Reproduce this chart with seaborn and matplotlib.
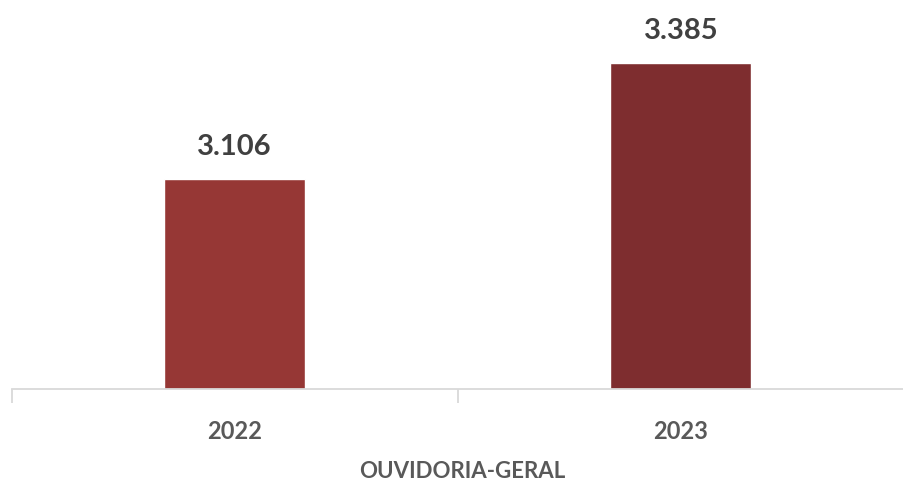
import matplotlib
matplotlib.use("Agg")
import pandas as pd
import matplotlib.pyplot as plt
import seaborn as sns

# data
anos = ["2022", "2023"]
manifestacoes = [3106, 3385]
cores = ["#963735", "#7e2d2f"]
titulo_eixo = "OUVIDORIA-GERAL"

df = pd.DataFrame({"Ano": anos, "Total": manifestacoes})

sns.set_style("white")
plt.rcParams["font.family"] = ["Lato", "DejaVu Sans"]

fig = plt.figure(figsize=(9.04, 4.80), dpi=100)
ax = fig.add_axes([11.5 / 904, 91 / 480, 892.5 / 904, 374 / 480])

sns.barplot(data=df, x="Ano", y="Total", hue="Ano", palette=cores,
            width=0.316, saturation=1, legend=False, ax=ax)

ax.set_ylim(2600, 3500)
xmax = (904 - 11.5) / 451 - 0.5
ax.set_xlim(-0.5, xmax)

# value labels above the bars
for i, v in enumerate(manifestacoes):
    ax.text(i, v + 45, f"{v:,}".replace(",", "."), ha="center", va="bottom",
            fontsize=21, fontweight="bold", color="#404040")

# category axis: light line with separators between the groups
for s in ["top", "right", "left"]:
    ax.spines[s].set_visible(False)
ax.spines["bottom"].set_color("#d9d9d9")
ax.spines["bottom"].set_linewidth(1.3)
ax.set_yticks([])
ax.set_xticks([-0.5, 0.5, 1.5], minor=True)
ax.tick_params(axis="x", which="minor", bottom=True, length=10, width=1.3,
               color="#d9d9d9")
ax.tick_params(axis="x", which="major", bottom=False, length=0, pad=22,
               labelsize=17, labelcolor="#595959")
for lab in ax.get_xticklabels():
    lab.set_fontweight("bold")
ax.set_xlabel(titulo_eixo, fontsize=16, fontweight="bold", color="#595959",
              va="center")
# centre the axis title under the whole category axis (it runs past the right edge)
ax.xaxis.set_label_coords(1.0 / (xmax + 0.5), -82 / 374)
ax.set_ylabel("")

fig.savefig("out.png", dpi=100)
